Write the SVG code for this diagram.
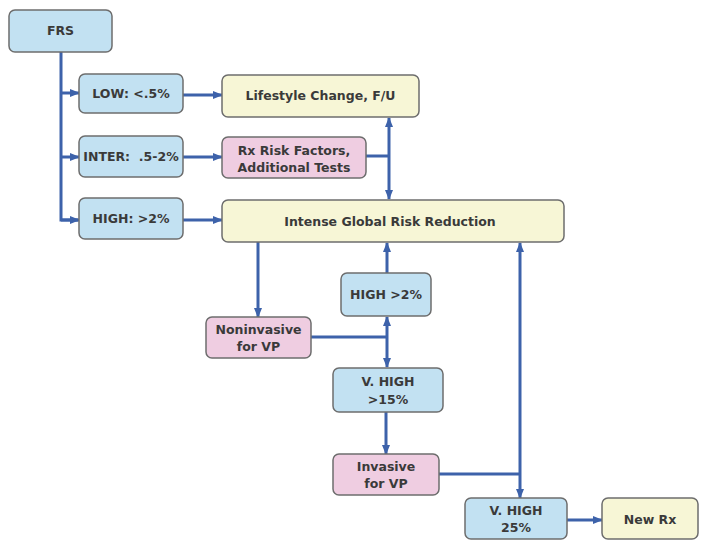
<svg xmlns="http://www.w3.org/2000/svg" width="707" height="540" viewBox="0 0 707 540">
<defs>
<marker id="ah" markerUnits="userSpaceOnUse" markerWidth="10" markerHeight="10" viewBox="0 0 10 10" refX="9" refY="5" orient="auto-start-reverse">
<path d="M0,1 L10,5 L0,9 Z" fill="#3d62aa"/>
</marker>
<style>
.b{fill:#c2e1f2;stroke:#6d6d6d;stroke-width:1.5}
.y{fill:#f7f6d6;stroke:#6d6d6d;stroke-width:1.5}
.p{fill:#efcde1;stroke:#6d6d6d;stroke-width:1.5}
text{font-family:"DejaVu Sans","Liberation Sans",sans-serif;font-weight:bold;font-size:12.5px;fill:#3a3a3a;text-anchor:middle;white-space:pre}
.c{fill:none;stroke:#3d62aa;stroke-width:3}
.a{marker-end:url(#ah)}
.d{marker-start:url(#ah);marker-end:url(#ah)}
</style>
</defs>
<rect width="707" height="540" fill="#ffffff"/>
<g id="connectors">
<path class="c" d="M61,52 V220 H78"/>
<path class="c a" d="M61,220 H79"/>
<path class="c a" d="M61,93 H79"/>
<path class="c a" d="M61,157 H79"/>
<path class="c a" d="M183,95 H222"/>
<path class="c a" d="M183,157 H222"/>
<path class="c a" d="M183,220 H222"/>
<path class="c" d="M366,156 H389"/>
<path class="c d" d="M389,118 V199"/>
<path class="c a" d="M258,242 V317"/>
<path class="c a" d="M387,273 V243"/>
<path class="c d" d="M387,317 V367"/>
<path class="c" d="M311,337 H387"/>
<path class="c a" d="M386,412 V454"/>
<path class="c" d="M439,474 H520"/>
<path class="c d" d="M520,243 V498"/>
<path class="c a" d="M567,520 H602"/>
</g>
<g id="frs"><rect class="b" x="9" y="10" width="103" height="42" rx="6"/><text x="60.5" y="35">FRS</text></g>
<g id="low"><rect class="b" x="79" y="74" width="104" height="39" rx="6"/><text x="131" y="98">LOW: &lt;.5%</text></g>
<g id="inter"><rect class="b" x="79" y="136" width="104" height="41" rx="6"/><text x="131" y="161" xml:space="preserve">INTER:  .5-2%</text></g>
<g id="high"><rect class="b" x="79" y="198" width="104" height="41" rx="6"/><text x="131" y="223">HIGH: &gt;2%</text></g>
<g id="lifestyle"><rect class="y" x="222" y="75" width="197" height="42" rx="6"/><text x="320.5" y="100">Lifestyle Change, F/U</text></g>
<g id="rx"><rect class="p" x="222" y="137" width="144" height="41" rx="6"/><text x="294" y="155">Rx Risk Factors,</text><text x="294" y="172">Additional Tests</text></g>
<g id="intense"><rect class="y" x="222" y="200" width="342" height="42" rx="6"/><text x="390" y="226">Intense Global Risk Reduction</text></g>
<g id="high2"><rect class="b" x="341" y="273" width="90" height="43" rx="6"/><text x="386" y="299">HIGH &gt;2%</text></g>
<g id="noninvasive"><rect class="p" x="206" y="317" width="105" height="41" rx="6"/><text x="258.5" y="334">Noninvasive</text><text x="258.5" y="351">for VP</text></g>
<g id="vhigh15"><rect class="b" x="333" y="368" width="110" height="44" rx="6"/><text x="388" y="386">V. HIGH</text><text x="388" y="404">&gt;15%</text></g>
<g id="invasive"><rect class="p" x="333" y="454" width="106" height="41" rx="6"/><text x="386" y="471">Invasive</text><text x="386" y="488">for VP</text></g>
<g id="vhigh25"><rect class="b" x="465" y="498" width="102" height="41" rx="6"/><text x="516" y="515">V. HIGH</text><text x="516" y="532">25%</text></g>
<g id="newrx"><rect class="y" x="602" y="498" width="96" height="41" rx="6"/><text x="650" y="524">New Rx</text></g>
</svg>
